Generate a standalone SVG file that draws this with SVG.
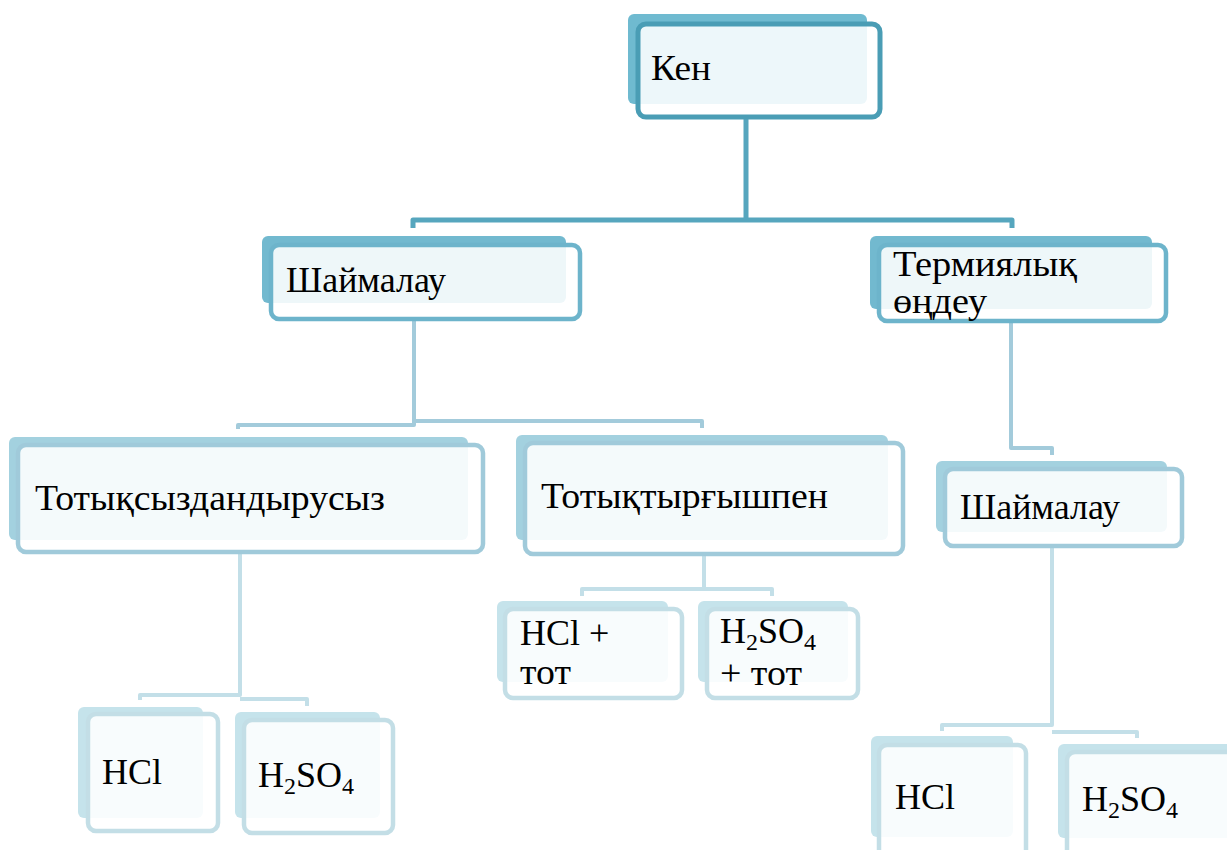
<svg xmlns="http://www.w3.org/2000/svg" width="1227" height="850" viewBox="0 0 1227 850" font-family="Liberation Serif">
<style>
  .t { font-size: 36px; fill: #000; }
  .sub { font-size: 24px; }
  .front { fill: #fff; fill-opacity: 0.88; stroke-width: 5; }
  .c { fill: none; stroke-linejoin: round; stroke-linecap: butt; }
  .l1 .tab { fill: #6fbad0; } .l1 .front { stroke: #4a9db5; }
  .l2 .tab { fill: #72b9cf; } .l2 .front { stroke: #6db4cb; stroke-width: 4.5; }
  .l3 .tab { fill: #a3d1df; } .l3 .front { stroke: #a0cada; stroke-width: 4.5; }
  .l4 .tab { fill: #c5e3eb; } .l4 .front { stroke: #c3dee6; stroke-width: 4.5; }
</style>
<rect width="1227" height="850" fill="#fff"/>
<g id="connectors">
  <path class="c" stroke="#56a6be" stroke-width="5" d="M746 118 V220 M413 228 V220 H1012 V228"/>
  <path class="c" stroke="#a3cbdb" stroke-width="4" d="M414 320 V425 H238 V429 M414 421 H702 V428"/>
  <path class="c" stroke="#a3cbdb" stroke-width="4" d="M1011 322 V448 H1052 V455"/>
  <path class="c" stroke="#c3dfe8" stroke-width="4" d="M240 553 V695 H140 V700 M240 699 H307 V706"/>
  <path class="c" stroke="#c3dfe8" stroke-width="4" d="M704 555 V589 H582 V596 M704 589 H772 V596"/>
  <path class="c" stroke="#c3dfe8" stroke-width="4" d="M1052 547 V725 H942 V731 M1052 732 H1137 V738"/>
</g>
<g id="node-ken" class="l1">
  <rect class="tab" x="628" y="14" width="239" height="90" rx="6"/>
  <rect class="front" x="638" y="24" width="242" height="93" rx="8"/>
  <text class="t" x="651" y="80" font-family="Liberation Serif, serif" textLength="60" lengthAdjust="spacingAndGlyphs">Кен</text>
</g>
<g id="node-shaimalau-1" class="l2">
  <rect class="tab" x="262" y="236" width="304" height="67" rx="6"/>
  <rect class="front" x="271" y="245" width="309" height="74" rx="8"/>
  <text class="t" x="286" y="292" font-family="Liberation Serif, serif" textLength="160" lengthAdjust="spacingAndGlyphs">Шаймалау</text>
</g>
<g id="node-termiyalyk" class="l2">
  <rect class="tab" x="870" y="236" width="282" height="73" rx="6"/>
  <rect class="front" x="879" y="245" width="287" height="76" rx="8"/>
  <text class="t" x="893" y="276" font-family="Liberation Serif, serif" textLength="184" lengthAdjust="spacingAndGlyphs">Термиялық</text>
  <text class="t" x="893" y="313" font-family="Liberation Serif, serif" textLength="94" lengthAdjust="spacingAndGlyphs">өңдеу</text>
</g>
<g id="node-totyksyz" class="l3">
  <rect class="tab" x="9" y="437" width="459" height="103" rx="6"/>
  <rect class="front" x="18" y="445" width="465" height="107" rx="8"/>
  <text class="t" x="35" y="510" font-family="Liberation Serif, serif" textLength="350" lengthAdjust="spacingAndGlyphs">Тотықсыздандырусыз</text>
</g>
<g id="node-totyktyrgysh" class="l3">
  <rect class="tab" x="516" y="435" width="372" height="105" rx="6"/>
  <rect class="front" x="525" y="443" width="378" height="111" rx="8"/>
  <text class="t" x="541" y="508" font-family="Liberation Serif, serif" textLength="287" lengthAdjust="spacingAndGlyphs">Тотықтырғышпен</text>
</g>
<g id="node-shaimalau-2" class="l3">
  <rect class="tab" x="936" y="461" width="231" height="71" rx="6"/>
  <rect class="front" x="945" y="469" width="237" height="77" rx="8"/>
  <text class="t" x="960" y="519" font-family="Liberation Serif, serif" textLength="160" lengthAdjust="spacingAndGlyphs">Шаймалау</text>
</g>
<g id="node-hcl-tot" class="l4">
  <rect class="tab" x="497" y="601" width="171" height="81" rx="6"/>
  <rect class="front" x="505" y="609" width="177" height="89" rx="8"/>
  <text class="t" x="520" y="645" font-family="Liberation Serif, serif">HCl +</text>
  <text class="t" x="520" y="684" font-family="Liberation Serif, serif" textLength="51" lengthAdjust="spacingAndGlyphs">тот</text>
</g>
<g id="node-h2so4-tot" class="l4">
  <rect class="tab" x="698" y="601" width="150" height="81" rx="6"/>
  <rect class="front" x="707" y="609" width="151" height="89" rx="8"/>
  <text class="t" x="720" y="643" font-family="Liberation Serif, serif">H<tspan class="sub" dy="7">2</tspan><tspan dy="-7">SO</tspan><tspan class="sub" dy="7">4</tspan></text>
  <text class="t" x="720" y="685" font-family="Liberation Serif, serif" textLength="82" lengthAdjust="spacingAndGlyphs">+ тот</text>
</g>
<g id="node-hcl-1" class="l4">
  <rect class="tab" x="78" y="707" width="125" height="111" rx="6"/>
  <rect class="front" x="88" y="714" width="130" height="117" rx="8"/>
  <text class="t" x="102" y="784" font-family="Liberation Serif, serif">HCl</text>
</g>
<g id="node-h2so4-1" class="l4">
  <rect class="tab" x="235" y="712" width="145" height="106" rx="6"/>
  <rect class="front" x="244" y="720" width="149" height="113" rx="8"/>
  <text class="t" x="258" y="787" font-family="Liberation Serif, serif">H<tspan class="sub" dy="7">2</tspan><tspan dy="-7">SO</tspan><tspan class="sub" dy="7">4</tspan></text>
</g>
<g id="node-hcl-2" class="l4">
  <rect class="tab" x="871" y="736" width="142" height="101" rx="6"/>
  <rect class="front" x="879" y="745" width="147" height="115" rx="8"/>
  <text class="t" x="895" y="809" font-family="Liberation Serif, serif">HCl</text>
</g>
<g id="node-h2so4-2" class="l4">
  <rect class="tab" x="1058" y="744" width="180" height="94" rx="6"/>
  <rect class="front" x="1067" y="752" width="180" height="110" rx="8"/>
  <text class="t" x="1082" y="811" font-family="Liberation Serif, serif">H<tspan class="sub" dy="7">2</tspan><tspan dy="-7">SO</tspan><tspan class="sub" dy="7">4</tspan></text>
</g>
</svg>
